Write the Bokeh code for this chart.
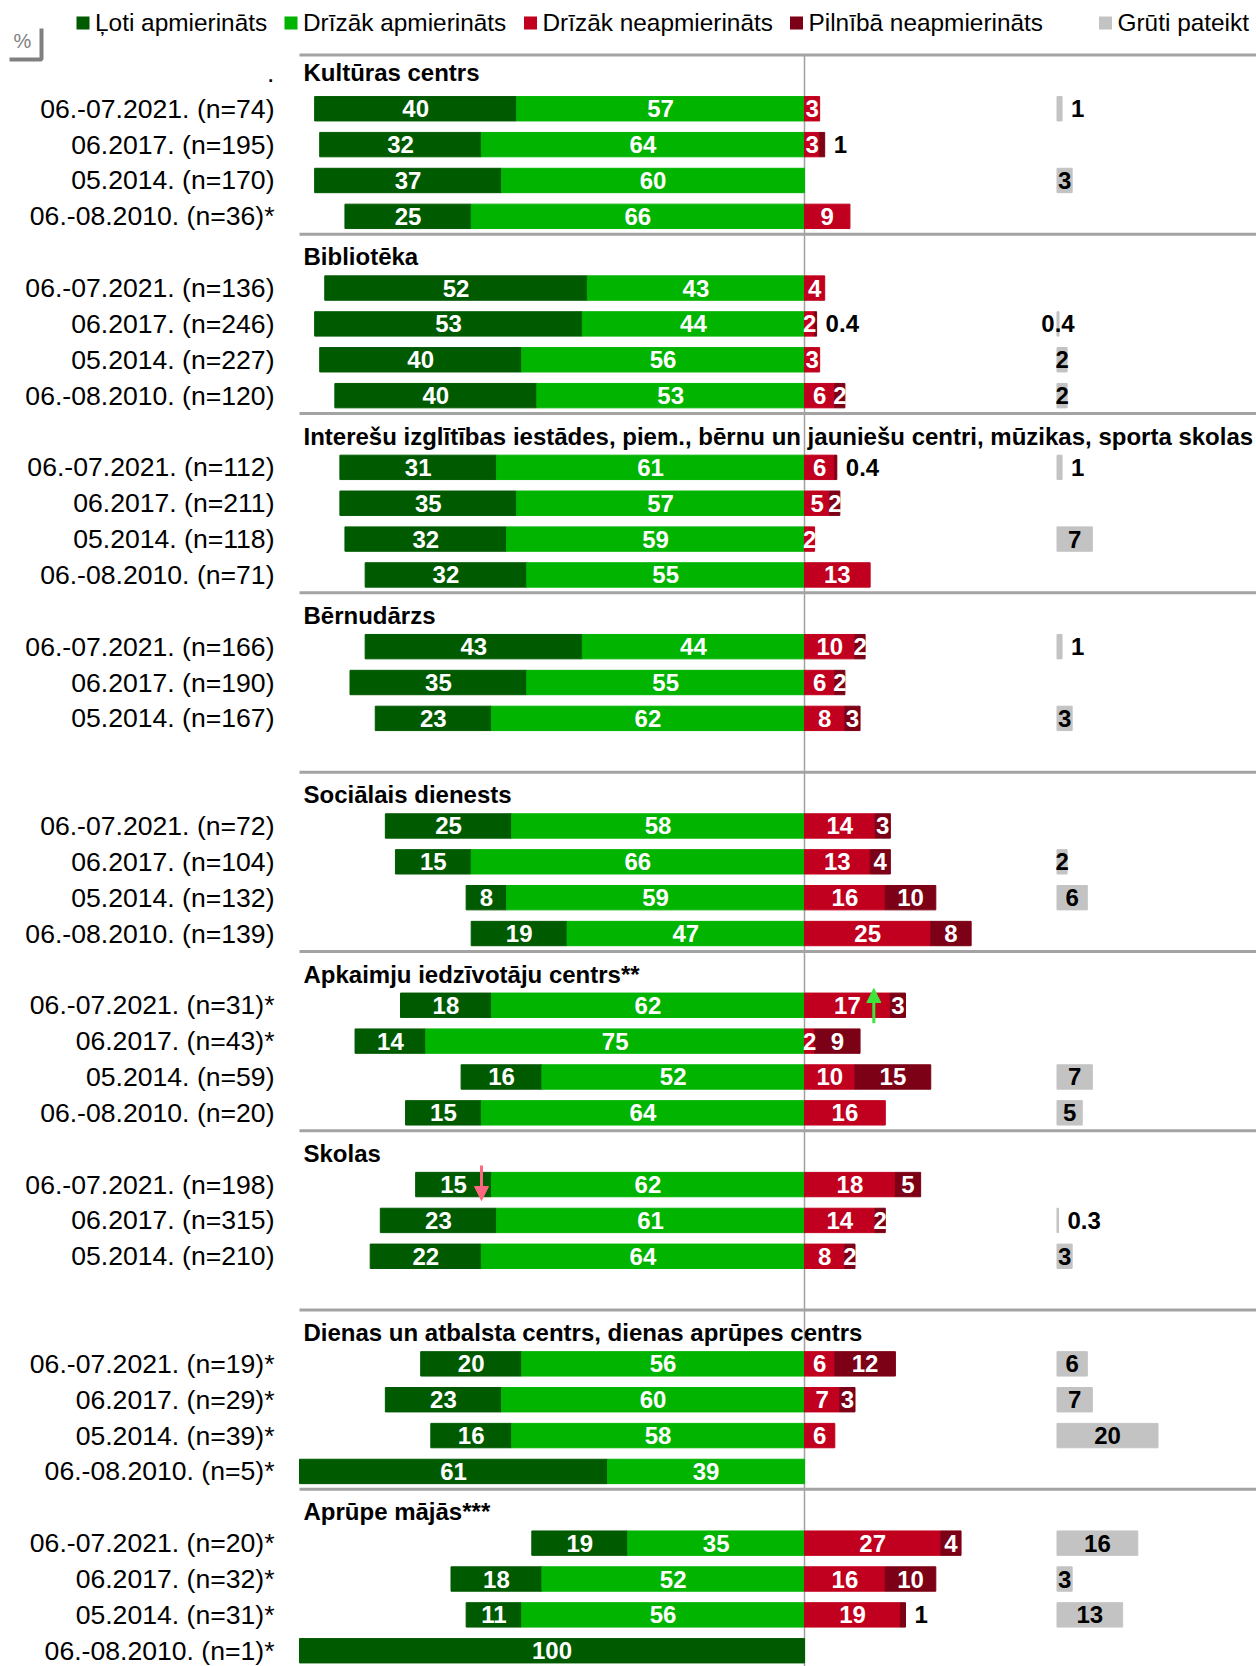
from bokeh.plotting import figure
from bokeh.models import Range1d, ColumnDataSource, Arrow, NormalHead
from bokeh.embed import file_html
from bokeh.resources import INLINE
from bokeh.core.properties import value

# ---------------- data ----------------
groups = [
    "Kultūras centrs",
    "Bibliotēka",
    "Interešu izglītības iestādes, piem., bērnu un jauniešu centri, mūzikas, sporta skolas",
    "Bērnudārzs",
    "Sociālais dienests",
    "Apkaimju iedzīvotāju centrs**",
    "Skolas",
    "Dienas un atbalsta centrs, dienas aprūpes centrs",
    "Aprūpe mājās***",
]
row_labels = [
    ["06.-07.2021. (n=74)", "06.2017. (n=195)", "05.2014. (n=170)", "06.-08.2010. (n=36)*"],
    ["06.-07.2021. (n=136)", "06.2017. (n=246)", "05.2014. (n=227)", "06.-08.2010. (n=120)"],
    ["06.-07.2021. (n=112)", "06.2017. (n=211)", "05.2014. (n=118)", "06.-08.2010. (n=71)"],
    ["06.-07.2021. (n=166)", "06.2017. (n=190)", "05.2014. (n=167)"],
    ["06.-07.2021. (n=72)", "06.2017. (n=104)", "05.2014. (n=132)", "06.-08.2010. (n=139)"],
    ["06.-07.2021. (n=31)*", "06.2017. (n=43)*", "05.2014. (n=59)", "06.-08.2010. (n=20)"],
    ["06.-07.2021. (n=198)", "06.2017. (n=315)", "05.2014. (n=210)"],
    ["06.-07.2021. (n=19)*", "06.2017. (n=29)*", "05.2014. (n=39)*", "06.-08.2010. (n=5)*"],
    ["06.-07.2021. (n=20)*", "06.2017. (n=32)*", "05.2014. (n=31)*", "06.-08.2010. (n=1)*"],
]
very_sat = [[40, 32, 37, 25], [52, 53, 40, 40], [31, 35, 32, 32], [43, 35, 23],
            [25, 15, 8, 19], [18, 14, 16, 15], [15, 23, 22], [20, 23, 16, 61], [19, 18, 11, 100]]
rather_sat = [[57, 64, 60, 66], [43, 44, 56, 53], [61, 57, 59, 55], [44, 55, 62],
              [58, 66, 59, 47], [62, 75, 52, 64], [62, 61, 64], [56, 60, 58, 39], [35, 52, 56, 0]]
rather_unsat = [[3, 3, 0, 9], [4, 2, 3, 6], [6, 5, 2, 13], [10, 6, 8],
                [14, 13, 16, 25], [17, 2, 10, 16], [18, 14, 8], [6, 7, 6, 0], [27, 16, 19, 0]]
very_unsat = [[0, 1, 0, 0], [0, 0.4, 0, 2], [0.4, 2, 0, 0], [2, 2, 3],
              [3, 4, 10, 8], [3, 9, 15, 0], [5, 2, 2], [12, 3, 0, 0], [4, 10, 1, 0]]
hard_to_say = [[1, 0, 3, 0], [0, 0.4, 2, 2], [1, 0, 7, 0], [1, 0, 3],
               [0, 2, 6, 0], [0, 0, 7, 5], [0, 0.3, 3], [6, 7, 20, 0], [16, 3, 13, 0]]
legend_labels = ["Ļoti apmierināts", "Drīzāk apmierināts", "Drīzāk neapmierināts",
                 "Pilnībā neapmierināts", "Grūti pateikt"]

# ---------------- style ----------------
C_VS, C_RS, C_RU, C_VU, C_HS = "#005a00", "#00b400", "#c0001e", "#7c0016", "#c3c3c3"
colors = [C_VS, C_RS, C_RU, C_VU, C_HS]
FONT = value("Liberation Sans")
W, H = 1256, 1666
PX = 5.05          # px per percent
SLOT = 35.86       # px per row slot
X0 = 804           # page x of the 0 line
Y0 = 72.4          # page y of first slot centre
HS_START = 50      # where the "hard to say" column starts
TITLE_SHIFT = 0.13 # later group titles sit a little lower in their slot

def fx(px):
    return (px - X0) / PX

def fy(py):
    return -(py - Y0) / SLOT

XL, XR = fx(0), fx(W)
YT, YB = fy(0), fy(H)

p = figure(width=W, height=H, x_range=Range1d(XL, XR), y_range=Range1d(YB, YT),
           x_axis_location=None, y_axis_location=None, toolbar_location=None,
           output_backend="svg", min_border=0, outline_line_color=None)
p.grid.visible = False
p.background_fill_color = "white"

def fmt(v):
    return str(int(v)) if float(v).is_integer() else str(v)

bars = dict(y=[], left=[], right=[], color=[])
lab_in_w = dict(x=[], y=[], t=[])
lab_in_b = dict(x=[], y=[], t=[])
lab_out = dict(x=[], y=[], t=[])
rows_txt = dict(x=[], y=[], t=[])
titles = dict(x=[], y=[], t=[])
sep_y = [0.5]
centered_small = {(1, 1)}

for g, title in enumerate(groups):
    ky = -5 * g
    titles["x"].append(fx(303))
    titles["y"].append(ky - (TITLE_SHIFT if g > 0 else 0))
    titles["t"].append(title)
    if g > 0:
        sep_y.append(ky + 0.5)
    for r, lbl in enumerate(row_labels[g]):
        y = ky - 1 - r
        rows_txt["x"].append(fx(274)); rows_txt["y"].append(y); rows_txt["t"].append(lbl)
        vs, rs = very_sat[g][r], rather_sat[g][r]
        ru, vu, hs = rather_unsat[g][r], very_unsat[g][r], hard_to_say[g][r]
        segs = [(-(vs + rs), -rs, vs, 0), (-rs, 0, rs, 1), (0, ru, ru, 2),
                (ru, ru + vu, vu, 3), (HS_START, HS_START + hs, hs, 4)]
        for left, right, v, i in segs:
            if v <= 0:
                continue
            bars["y"].append(y); bars["left"].append(left); bars["right"].append(right)
            bars["color"].append(colors[i])
            if v < 1.5 and not (i == 4 and (g, r) in centered_small):
                d = lab_out
                d["x"].append(right)
            else:
                d = lab_in_b if i == 4 else lab_in_w
                d["x"].append((left + right) / 2)
            d["y"].append(y); d["t"].append(fmt(v))

# separators and centre line
p.segment(x0=0, y0=0.5, x1=0, y1=YB, line_color="#a0a0a0", line_width=1.5)
p.segment(x0=[-100] * len(sep_y), x1=[XR] * len(sep_y), y0=sep_y, y1=sep_y,
          line_color="#a3a3a3", line_width=3)

p.hbar(y="y", left="left", right="right", height=0.68, color="color",
       source=ColumnDataSource(bars))

common = dict(text_font=FONT, text_baseline="middle")
p.text(x="x", y="y", text="t", source=ColumnDataSource(lab_in_w), text_align="center",
       text_color="white", text_font_style="bold", text_font_size="24px", **common)
p.text(x="x", y="y", text="t", source=ColumnDataSource(lab_in_b), text_align="center",
       text_color="black", text_font_style="bold", text_font_size="24px", **common)
p.text(x="x", y="y", text="t", source=ColumnDataSource(lab_out), text_align="left",
       x_offset=9, text_color="black", text_font_style="bold", text_font_size="24px", **common)
p.text(x="x", y="y", text="t", source=ColumnDataSource(rows_txt), text_align="right",
       text_color="black", text_font_size="26.6px", **common)
p.text(x="x", y="y", text="t", source=ColumnDataSource(titles), text_align="left",
       text_color="black", text_font_style="bold", text_font_size="24px", **common)
p.text(x=[fx(274)], y=[0], text=["."], text_align="right", text_color="black",
       text_font_size="26.6px", **common)

# legend
leg_sq_x = [82.5, 290.5, 530, 796, 1105]
p.scatter(x=[fx(v) for v in leg_sq_x], y=[fy(22.5)] * 5, marker="square", size=13,
          color=colors, line_color=None)
p.text(x=[fx(v + 12) for v in leg_sq_x], y=[fy(22)] * 5, text=legend_labels,
       text_align="left", text_color="black", text_font_size="24.4px", **common)

# % box
p.text(x=[fx(22)], y=[fy(40)], text=["%"], text_align="center", text_color="#808080",
       text_font_size="20px", **common)
p.line(x=[fx(9), fx(41), fx(41)], y=[fy(59), fy(59), fy(28)], line_color="#808080",
       line_width=4)

# significance arrows
p.add_layout(Arrow(end=NormalHead(size=14, fill_color="#3de63d", line_color="#3de63d"),
                   x_start=fx(873.3), y_start=fy(1022.7), x_end=fx(873.3), y_end=fy(988),
                   line_color="#3de63d", line_width=3))
p.add_layout(Arrow(end=NormalHead(size=14, fill_color="#ff6682", line_color="#ff6682"),
                   x_start=fx(481), y_start=fy(1165), x_end=fx(481), y_end=fy(1200),
                   line_color="#ff6682", line_width=3))

open("out.html", "w").write(file_html(p, INLINE))
